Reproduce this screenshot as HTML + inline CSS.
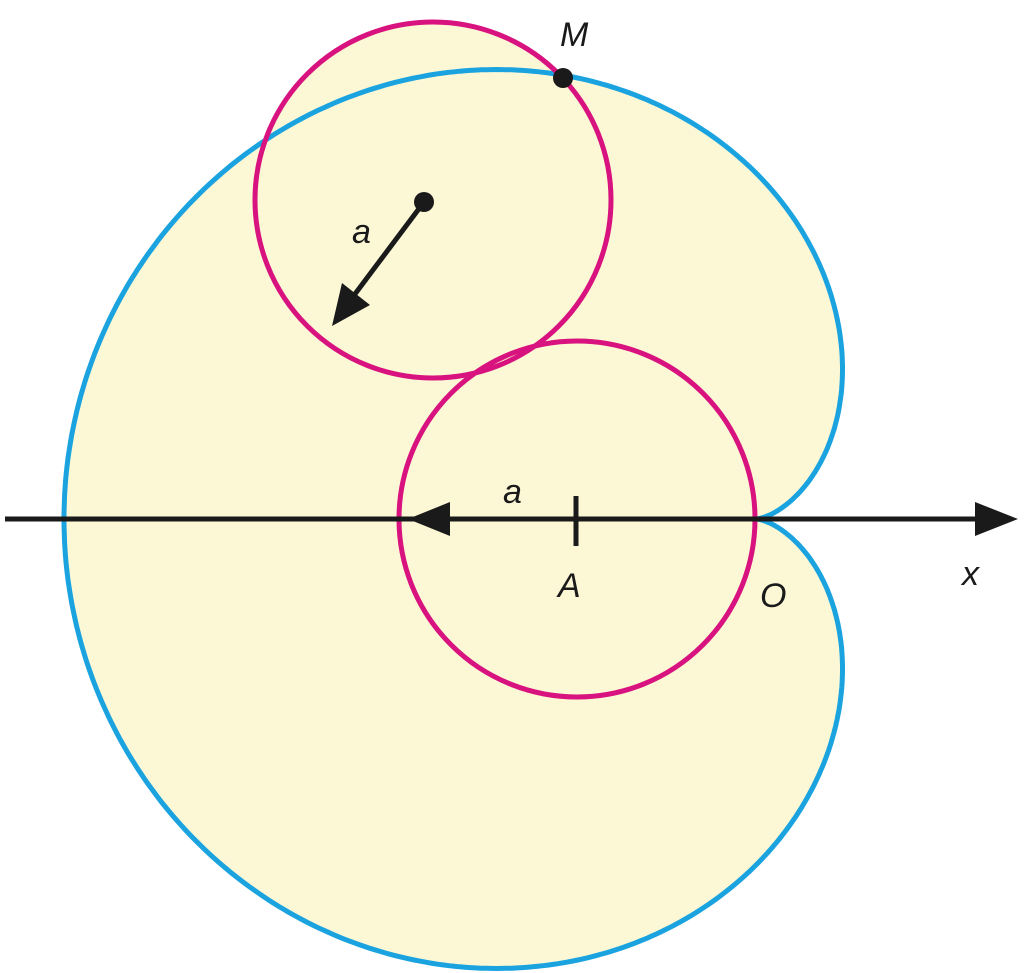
<!DOCTYPE html>
<html><head><meta charset="utf-8"><style>
html,body{margin:0;padding:0;background:#fff;}
svg{display:block}
text{font-family:"Liberation Sans",sans-serif;font-style:italic;font-size:34px;fill:#1a1a1a}
</style></head><body>
<svg width="1024" height="973" viewBox="0 0 1024 973">
<circle cx="433" cy="200" r="178" fill="#fcf8d6"/>
<path id="card" d="" fill="#fcf8d6" stroke="#1ba3e0" stroke-width="5"/>
<circle cx="577" cy="519" r="178" fill="none" stroke="#d8127e" stroke-width="5"/>
<circle cx="433" cy="200" r="178" fill="none" stroke="#d8127e" stroke-width="5"/>
<line x1="5" y1="519" x2="980" y2="519" stroke="#1a1a1a" stroke-width="5"/>
<polygon points="1018,519 975,502 975,536" fill="#1a1a1a"/>
<polygon points="408,519 450,502 450,536" fill="#1a1a1a"/>
<line x1="576" y1="496" x2="576" y2="546" stroke="#1a1a1a" stroke-width="5"/>
<line x1="424" y1="202" x2="352" y2="298" stroke="#1a1a1a" stroke-width="5"/>
<polygon points="332,326 342,283 370,305" fill="#1a1a1a"/>
<circle cx="424" cy="202" r="10" fill="#1a1a1a"/>
<circle cx="563" cy="78" r="10" fill="#1a1a1a"/>
<text x="560" y="46">M</text>
<text x="352" y="243">a</text>
<text x="503" y="503">a</text>
<text x="558" y="597">A</text>
<text x="760" y="607">O</text>
<text x="962" y="585">x</text>
</svg>
<script>
var a=173,ox=756,oy=519,d="";
for(var i=0;i<=720;i++){var p=i/720*2*Math.PI;var r=2*a*(1-Math.cos(p));
var x=ox+r*Math.cos(p),y=oy-r*Math.sin(p);d+=(i?"L":"M")+x.toFixed(1)+","+y.toFixed(1);}
document.getElementById("card").setAttribute("d",d+"Z");
</script>
</body></html>
